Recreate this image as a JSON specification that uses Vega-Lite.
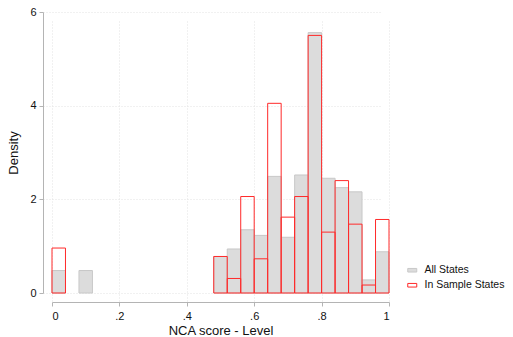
{
  "$schema": "https://vega.github.io/schema/vega-lite/v6.json",
  "width": 337,
  "height": 281,
  "autosize": "none",
  "padding": {"left": 52, "top": 12, "right": 124, "bottom": 44},
  "background": "white",
  "config": {
    "font": "Liberation Sans",
    "view": {"stroke": null},
    "axis": {
      "domainColor": "#b4b4b4",
      "tickColor": "#b4b4b4",
      "labelColor": "#111111",
      "titleColor": "#111111",
      "labelFont": "Liberation Sans",
      "titleFont": "Liberation Sans",
      "titleFontWeight": "normal",
      "labelFontSize": 11,
      "titleFontSize": 13,
      "tickSize": 4,
      "domainWidth": 1,
      "tickWidth": 1,
      "gridColor": "#e2e2e2",
      "gridDash": [1, 2],
      "gridWidth": 1,
      "offset": 9
    }
  },
  "data": {
    "values": [
      {"lo": 0.00, "hi": 0.04, "density": 0.48, "group": "All States"},
      {"lo": 0.08, "hi": 0.12, "density": 0.48, "group": "All States"},
      {"lo": 0.48, "hi": 0.52, "density": 0.78, "group": "All States"},
      {"lo": 0.52, "hi": 0.56, "density": 0.94, "group": "All States"},
      {"lo": 0.56, "hi": 0.60, "density": 1.35, "group": "All States"},
      {"lo": 0.60, "hi": 0.64, "density": 1.23, "group": "All States"},
      {"lo": 0.64, "hi": 0.68, "density": 2.49, "group": "All States"},
      {"lo": 0.68, "hi": 0.72, "density": 1.19, "group": "All States"},
      {"lo": 0.72, "hi": 0.76, "density": 2.52, "group": "All States"},
      {"lo": 0.76, "hi": 0.80, "density": 5.56, "group": "All States"},
      {"lo": 0.80, "hi": 0.84, "density": 2.45, "group": "All States"},
      {"lo": 0.84, "hi": 0.88, "density": 2.25, "group": "All States"},
      {"lo": 0.88, "hi": 0.92, "density": 2.16, "group": "All States"},
      {"lo": 0.92, "hi": 0.96, "density": 0.28, "group": "All States"},
      {"lo": 0.96, "hi": 1.00, "density": 0.88, "group": "All States"},
      {"lo": 0.00, "hi": 0.04, "density": 0.96, "group": "In Sample States"},
      {"lo": 0.48, "hi": 0.52, "density": 0.78, "group": "In Sample States"},
      {"lo": 0.52, "hi": 0.56, "density": 0.31, "group": "In Sample States"},
      {"lo": 0.56, "hi": 0.60, "density": 2.06, "group": "In Sample States"},
      {"lo": 0.60, "hi": 0.64, "density": 0.73, "group": "In Sample States"},
      {"lo": 0.64, "hi": 0.68, "density": 4.05, "group": "In Sample States"},
      {"lo": 0.68, "hi": 0.72, "density": 1.62, "group": "In Sample States"},
      {"lo": 0.72, "hi": 0.76, "density": 2.06, "group": "In Sample States"},
      {"lo": 0.76, "hi": 0.80, "density": 5.50, "group": "In Sample States"},
      {"lo": 0.80, "hi": 0.84, "density": 1.30, "group": "In Sample States"},
      {"lo": 0.84, "hi": 0.88, "density": 2.40, "group": "In Sample States"},
      {"lo": 0.88, "hi": 0.92, "density": 1.47, "group": "In Sample States"},
      {"lo": 0.92, "hi": 0.96, "density": 0.17, "group": "In Sample States"},
      {"lo": 0.96, "hi": 1.00, "density": 1.57, "group": "In Sample States"}
    ]
  },
  "mark": {"type": "bar", "strokeWidth": 1},
  "encoding": {
    "x": {
      "field": "lo", "type": "quantitative",
      "scale": {"domain": [0, 1], "nice": false, "zero": false},
      "axis": {
        "title": "NCA score - Level",
        "values": [0, 0.2, 0.4, 0.6, 0.8, 1],
        "labelExpr": "datum.value == 0 ? '0' : datum.value == 1 ? '1' : replace(format(datum.value, '.1f'), '0.', '.')",
        "grid": true,
        "labelPadding": 4,
        "titlePadding": 3
      }
    },
    "x2": {"field": "hi"},
    "y": {
      "field": "density", "type": "quantitative",
      "scale": {"domain": [0, 6], "nice": false},
      "axis": {
        "title": "Density",
        "values": [0, 2, 4, 6],
        "grid": true,
        "labelAngle": 0,
        "labelPadding": 3,
        "titlePadding": 9
      }
    },
    "y2": {"datum": 0},
    "fill": {
      "field": "group", "type": "nominal",
      "scale": {"domain": ["All States", "In Sample States"], "range": ["#dcdcdc", "rgba(255,255,255,0)"]},
      "legend": {
        "title": null,
        "orient": "none",
        "legendX": 355,
        "legendY": 253,
        "symbolType": "M-1,-0.4H1V0.4H-1Z",
        "symbolSize": 81,
        "symbolStrokeWidth": 1,
        "labelFont": "Liberation Sans",
        "labelFontSize": 10.5,
        "labelColor": "#111111",
        "rowPadding": 4,
        "labelOffset": 7
      }
    },
    "stroke": {
      "field": "group", "type": "nominal",
      "scale": {"domain": ["All States", "In Sample States"], "range": ["#c8c8c8", "#ff2a2a"]},
      "legend": {
        "title": null,
        "orient": "none",
        "legendX": 355,
        "legendY": 253,
        "symbolType": "M-1,-0.4H1V0.4H-1Z",
        "symbolSize": 81,
        "symbolStrokeWidth": 1,
        "labelFont": "Liberation Sans",
        "labelFontSize": 10.5,
        "labelColor": "#111111",
        "rowPadding": 4,
        "labelOffset": 7
      }
    }
  }
}
